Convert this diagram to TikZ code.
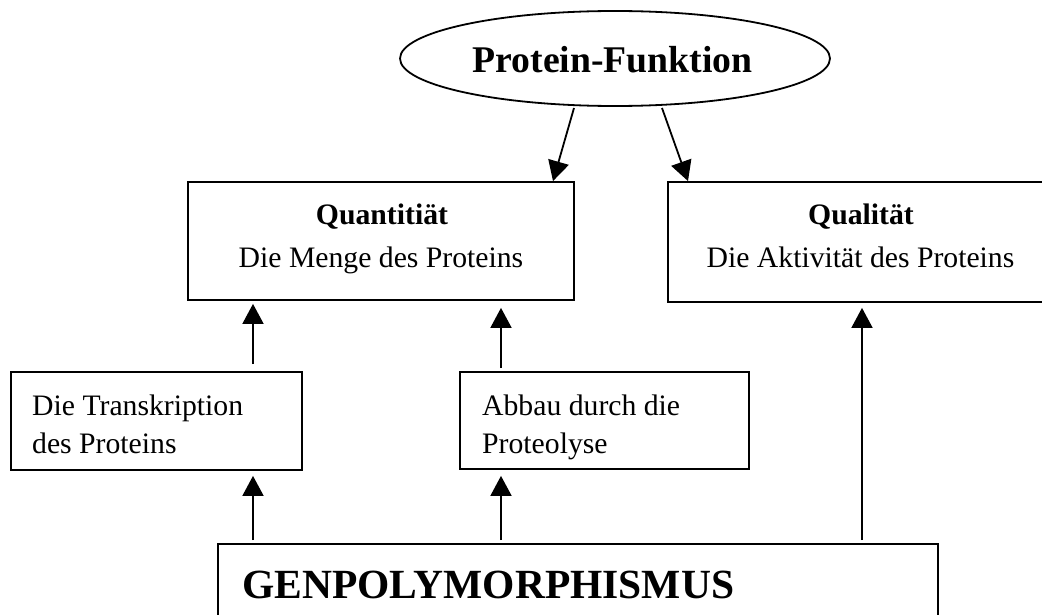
\documentclass[tikz,border=0pt]{standalone}
\usepackage{fontspec}
\setmainfont{Liberation Serif}
\usetikzlibrary{arrows.meta,shapes.geometric}
\begin{document}
\begin{tikzpicture}[x=1pt,y=-1pt,
  box/.style={draw, line width=1.8pt, rectangle, inner sep=0pt},
  lbl/.style={inner sep=0pt, font=\fontsize{29.7}{36}\selectfont},
  blbl/.style={inner sep=0pt, font=\fontsize{29.7}{36}\selectfont\bfseries},
  arr/.style={line width=1.8pt, -{Triangle[length=20pt,width=21pt]}}]
\useasboundingbox (0,0) rectangle (1042,615);
\clip (0,0) rectangle (1042,615);
\fill[white] (0,0) rectangle (1042,615);
% shapes
\node[draw, line width=1.8pt, ellipse, inner sep=0pt, minimum width=430pt, minimum height=95pt] (pf) at (615,58.5) {};
\node[box, minimum width=386pt, minimum height=118pt] (quant) at (381,241) {};
\node[box, minimum width=386pt, minimum height=120pt] (qual) at (861,242) {};
\node[box, minimum width=291pt, minimum height=98pt] (trans) at (156.5,421) {};
\node[box, minimum width=289pt, minimum height=97pt] (abbau) at (604.5,420.5) {};
\node[box, minimum width=720pt, minimum height=120pt] (gen) at (578,604) {};
% texts
\node[inner sep=0pt, anchor=base, font=\fontsize{37.7}{44}\selectfont\bfseries] (pft) at (612.5,73) {Protein-Funktion};
\node[blbl, anchor=base] (quantt) at (382,225) {Quantitiät};
\node[lbl, anchor=base] (quants) at (381,267) {Die Menge des Proteins};
\node[blbl, anchor=base] (qualt) at (861,225) {Qualität};
\node[lbl, anchor=base] (quals) at (860.5,267) {Die Aktivität des Proteins};
\node[lbl, anchor=base west] (trans1) at (32,415) {Die Transkription};
\node[lbl, anchor=base west] (trans2) at (32,453) {des Proteins};
\node[lbl, anchor=base west] (abbau1) at (482,415) {Abbau durch die};
\node[lbl, anchor=base west] (abbau2) at (482,453) {Proteolyse};
\node[inner sep=0pt, anchor=base west, font=\fontsize{41.5}{48}\selectfont\bfseries] (gent) at (242,598) {GENPOLYMORPHISMUS};
% connector anchors
\coordinate (xa) at (253,0);
\coordinate (xb) at (501,0);
\coordinate (xc) at (862,0);
\coordinate (s1) at (574,108);
\coordinate (s2) at (662,108);
\coordinate (t1) at (553,0);
\coordinate (t2) at (688,0);
% connectors
\draw[arr] (s1) -- (quant.north -| t1);
\draw[arr] (s2) -- (qual.north -| t2);
\draw[arr, shorten <=3pt, shorten >=5pt] (gen.north -| xa) -- (trans.south -| xa);
\draw[arr, shorten <=7pt, shorten >=3pt] (trans.north -| xa) -- (quant.south -| xa);
\draw[arr, shorten <=3pt, shorten >=6pt] (gen.north -| xb) -- (abbau.south -| xb);
\draw[arr, shorten <=3pt, shorten >=7pt] (abbau.north -| xb) -- (quant.south -| xb);
\draw[arr, shorten <=3pt, shorten >=5pt] (gen.north -| xc) -- (qual.south -| xc);
\end{tikzpicture}
\end{document}
